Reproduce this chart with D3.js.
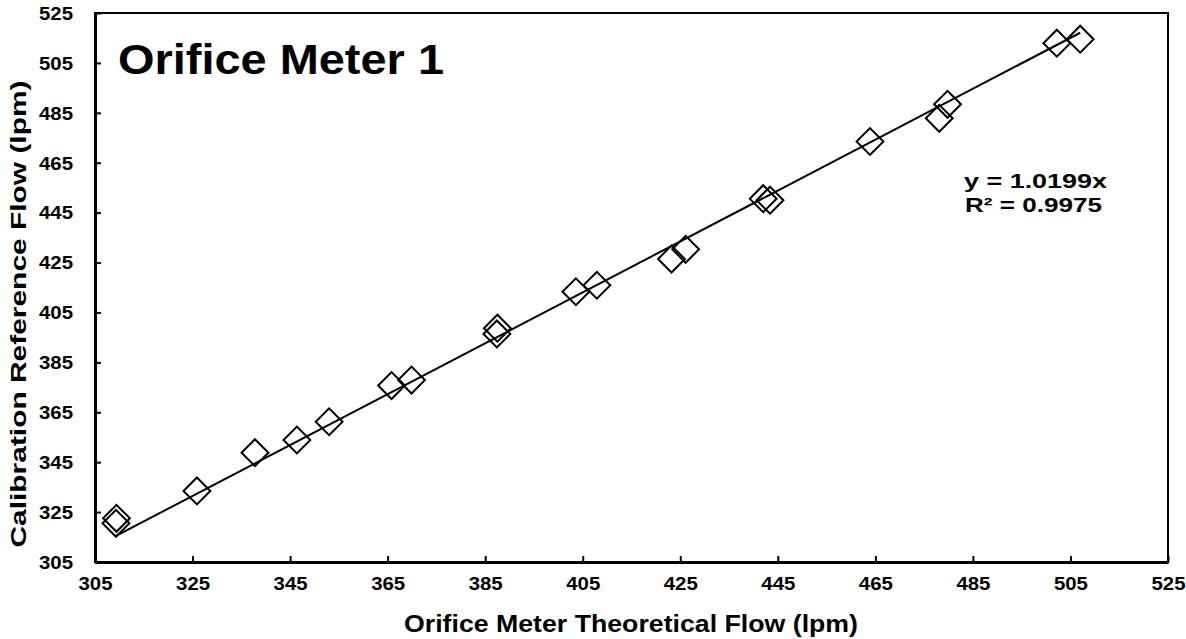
<!DOCTYPE html>
<html>
<head>
<meta charset="utf-8">
<script src="https://cdn.jsdelivr.net/npm/d3@7"></script>
<style>
  html, body { margin: 0; padding: 0; background: #fff; }
  svg { display: block; font-family: "Liberation Sans", Arial, sans-serif; }
</style>
</head>
<body>
<svg id="chart" width="1186" height="639"></svg>
<script>
// Theoretical flow (lpm) from the orifice meter
const theoreticalFlow = [309.4, 309.3, 325.9, 337.8, 346.4, 353.0, 365.8, 369.9, 387.5, 387.4,
  403.6, 407.9, 423.2, 426.1, 442.0, 443.4, 463.9, 478.1, 479.8, 502.2, 507.0];
// Calibration reference flow (lpm)
const referenceFlow = [322.5, 320.5, 333.5, 348.8, 353.9, 361.2, 375.7, 377.9, 398.7, 396.4,
  413.3, 415.9, 426.4, 430.3, 450.6, 450.0, 473.5, 482.8, 488.4, 512.9, 514.5];
const xTicks = [305, 325, 345, 365, 385, 405, 425, 445, 465, 485, 505, 525];
const yTicks = [305, 325, 345, 365, 385, 405, 425, 445, 465, 485, 505, 525];
const slope = 1.0199;
const rSquared = 0.9975;

const svg = d3.select("#chart");
const m = { left: 95, right: 1168, top: 13, bottom: 562 };

const x = d3.scaleLinear().domain([305, 525]).range([m.left, m.right]);
const y = d3.scaleLinear().domain([305, 525]).range([m.bottom, m.top]);

// Plot frame
svg.append("rect")
  .attr("x", m.left).attr("y", m.top)
  .attr("width", m.right - m.left).attr("height", m.bottom - m.top)
  .attr("fill", "none").attr("stroke", "#000").attr("stroke-width", 2);

// Axes with inward ticks
const xAxis = svg.append("g").attr("transform", `translate(0,${m.bottom})`)
  .call(d3.axisBottom(x).tickValues(xTicks).tickSizeInner(-6).tickSizeOuter(0).tickPadding(15));
const yAxis = svg.append("g").attr("transform", `translate(${m.left},0)`)
  .call(d3.axisLeft(y).tickValues(yTicks).tickSizeInner(-6).tickSizeOuter(0).tickPadding(22));

[xAxis, yAxis].forEach(g => {
  g.select(".domain").attr("stroke", "#000").attr("stroke-width", 3);
  g.selectAll(".tick line").attr("stroke", "#000").attr("stroke-width", 2);
  g.selectAll(".tick text")
    .attr("fill", "#000")
    .attr("textLength", 34)
    .attr("lengthAdjust", "spacingAndGlyphs")
    .style("font-family", "'Liberation Sans', Arial, sans-serif")
    .style("font-size", "18.5px")
    .style("font-weight", "bold");
});
yAxis.selectAll(".tick text").attr("dy", "0.34em");

// Trendline through the origin over the data range
const xMin = d3.min(theoreticalFlow), xMax = d3.max(theoreticalFlow);
svg.append("line")
  .attr("x1", x(xMin)).attr("y1", y(slope * xMin))
  .attr("x2", x(xMax)).attr("y2", y(slope * xMax))
  .attr("stroke", "#000").attr("stroke-width", 2);

// Diamond markers
const diamond = d3.symbol().type(d3.symbolSquare).size(360);
svg.append("g").selectAll("path")
  .data(theoreticalFlow.map((v, i) => [v, referenceFlow[i]]))
  .join("path")
  .attr("d", diamond)
  .attr("transform", d => `translate(${x(d[0])},${y(d[1])}) rotate(45)`)
  .attr("fill", "none")
  .attr("stroke", "#000")
  .attr("stroke-width", 2);

// Title inside plot
svg.append("text")
  .attr("x", 118).attr("y", 74)
  .attr("textLength", 326).attr("lengthAdjust", "spacingAndGlyphs")
  .style("font-size", "42px").style("font-weight", "bold")
  .text("Orifice Meter 1");

// Regression equation
svg.append("text")
  .attr("x", 964).attr("y", 187.5)
  .attr("textLength", 143).attr("lengthAdjust", "spacingAndGlyphs")
  .style("font-size", "20px").style("font-weight", "bold")
  .text(`y = ${slope.toFixed(4)}x`);
svg.append("text")
  .attr("x", 965).attr("y", 211.5)
  .attr("textLength", 137).attr("lengthAdjust", "spacingAndGlyphs")
  .style("font-size", "20px").style("font-weight", "bold")
  .text(`R² = ${rSquared.toFixed(4)}`);

// Axis titles
svg.append("text")
  .attr("x", 631).attr("y", 632)
  .attr("text-anchor", "middle")
  .attr("textLength", 454).attr("lengthAdjust", "spacingAndGlyphs")
  .style("font-size", "24.5px").style("font-weight", "bold")
  .text("Orifice Meter Theoretical Flow (lpm)");

svg.append("text")
  .attr("transform", "translate(26,314) rotate(-90)")
  .attr("text-anchor", "middle")
  .attr("textLength", 467).attr("lengthAdjust", "spacingAndGlyphs")
  .style("font-size", "22px").style("font-weight", "bold")
  .text("Calibration Reference Flow (lpm)");
</script>
</body>
</html>
